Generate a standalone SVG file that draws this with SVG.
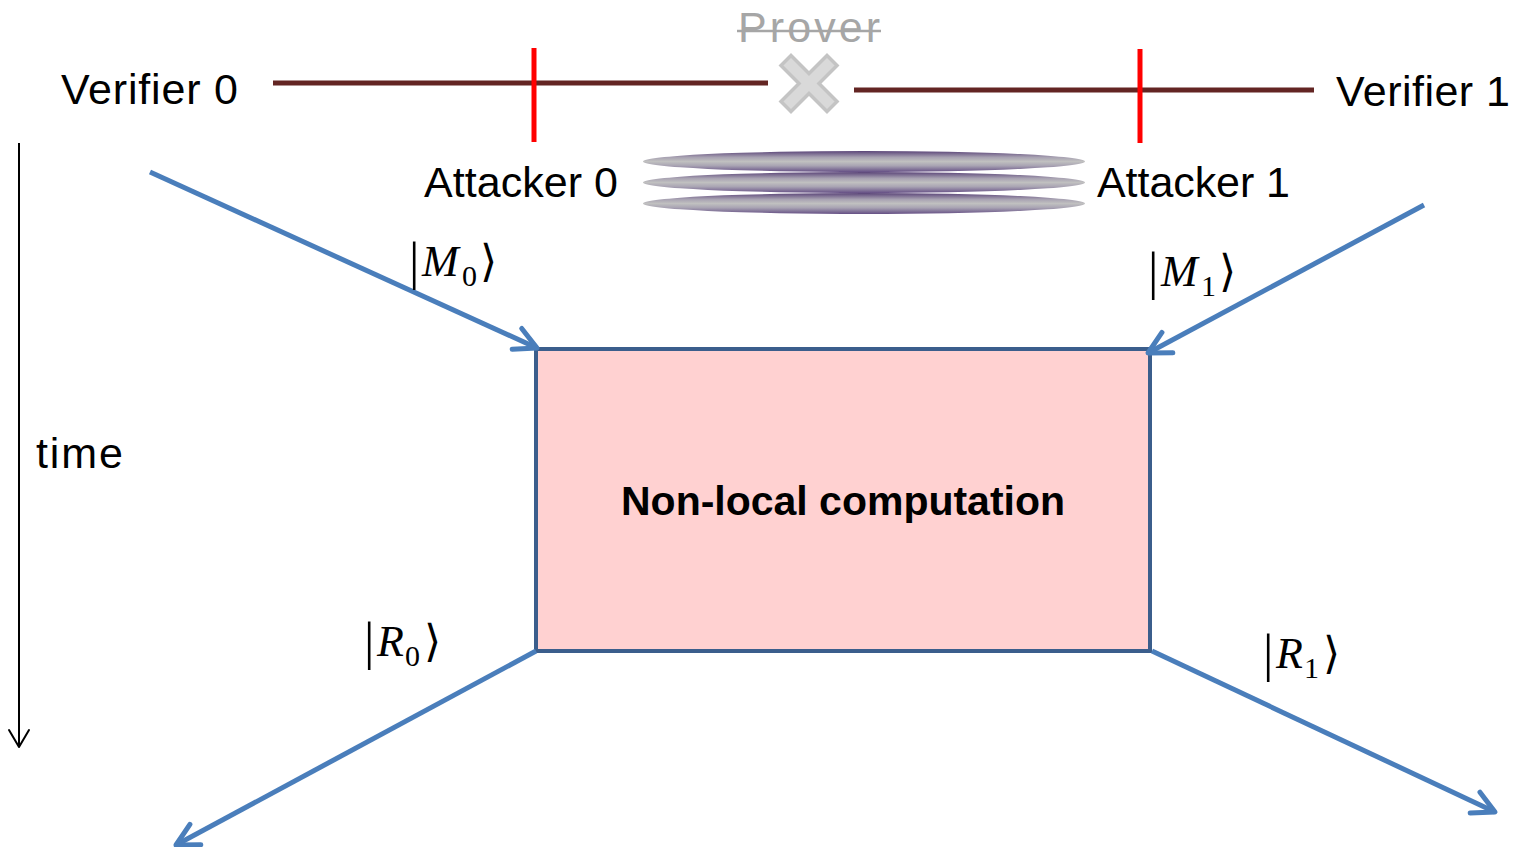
<svg xmlns="http://www.w3.org/2000/svg" width="1519" height="847" viewBox="0 0 1519 847">
  <style>
    .lbl { font-family: "Liberation Sans", Arial, sans-serif; font-size: 43px; fill: #000; }
    .math { font-family: "Liberation Serif", "DejaVu Serif", serif; font-size: 44px; fill: #000; }
    .sub { font-size: 30px; }
    .bar { font-size: 52px; }
    .wire { stroke: #632523; stroke-width: 5; fill: none; }
    .tap { stroke: #FF0000; stroke-width: 5; fill: none; }
    .flow { stroke: #4A7EBB; stroke-width: 5; fill: none; marker-end: url(#blueHead); }
    .ent { fill: url(#entGrad); }
  </style>
  <defs>
    <marker id="blueHead" markerUnits="userSpaceOnUse" viewBox="-4 -15 30 30" refX="22" refY="0" markerWidth="30" markerHeight="30" orient="auto">
      <path d="M0,-11.5 L22,0 L0,11.5" fill="none" stroke="#4A7EBB" stroke-width="5" stroke-linecap="round" stroke-linejoin="round"/>
    </marker>
    <marker id="blackHead" markerUnits="userSpaceOnUse" viewBox="-2 -12 22 24" refX="17" refY="0" markerWidth="22" markerHeight="24" orient="auto">
      <path d="M0,-10 L17,0 L0,10" fill="none" stroke="#000" stroke-width="2" stroke-linecap="round" stroke-linejoin="round"/>
    </marker>
    <linearGradient id="entGrad" x1="0" y1="0" x2="0" y2="1">
      <stop offset="0" stop-color="#5A4478"/>
      <stop offset="0.3" stop-color="#A8A2B2"/>
      <stop offset="0.5" stop-color="#C0C0C0"/>
      <stop offset="0.7" stop-color="#A9A4B3"/>
      <stop offset="1" stop-color="#654F85"/>
    </linearGradient>
  </defs>

  <!-- channel lines -->
  <g id="channel">
    <line class="wire" x1="273" y1="83" x2="768" y2="83"/>
    <line class="wire" x1="854" y1="90" x2="1314" y2="90"/>
    <line class="tap" x1="534" y1="48" x2="534" y2="142"/>
    <line class="tap" x1="1140" y1="49" x2="1140" y2="143"/>
  </g>

  <g id="verifier0"><text class="lbl" x="61" y="104" textLength="177">Verifier 0</text></g>
  <g id="verifier1"><text class="lbl" x="1336" y="106" textLength="174">Verifier 1</text></g>
  <g id="attacker0"><text class="lbl" x="424" y="197" textLength="194">Attacker 0</text></g>
  <g id="attacker1"><text class="lbl" x="1097" y="197" textLength="193">Attacker 1</text></g>

  <g id="prover">
    <text class="lbl" x="738" y="42" textLength="142" style="fill:#A6A6A6">Prover</text>
    <line x1="737" y1="31" x2="881" y2="31" stroke="#A6A6A6" stroke-width="2.5"/>
    <polygon transform="translate(809,83.5)" points="-28,-18 -18,-28 0,-10 18,-28 28,-18 10,0 28,18 18,28 0,10 -18,28 -28,18 -10,0" fill="#D9D9D9" stroke="#C4C4C4" stroke-width="3.5" stroke-linejoin="miter"/>
  </g>

  <g id="entanglement">
    <ellipse class="ent" cx="864" cy="161.5" rx="221" ry="10.5"/>
    <ellipse class="ent" cx="864" cy="182.5" rx="221" ry="10.5"/>
    <ellipse class="ent" cx="864" cy="203.5" rx="221" ry="10.5"/>
  </g>

  <g id="time">
    <line x1="19" y1="143" x2="19" y2="747" stroke="#000" stroke-width="2" marker-end="url(#blackHead)"/>
    <text class="lbl" x="36" y="468" textLength="87">time</text>
  </g>

  <g id="nonlocal">
    <rect x="536" y="349" width="614" height="302" fill="#FFD1D1" stroke="#3B5E8C" stroke-width="4"/>
    <text class="lbl" x="843" y="515" text-anchor="middle" style="font-weight:bold;font-size:41px" textLength="444">Non-local computation</text>
  </g>

  <g id="connectors">
    <line class="flow" x1="150" y1="172" x2="537" y2="348"/>
    <line class="flow" x1="1424" y1="205" x2="1148" y2="353"/>
    <line class="flow" x1="536" y1="651" x2="176" y2="845"/>
    <line class="flow" x1="1152" y1="651" x2="1495" y2="812"/>
  </g>

  <g id="labels">
    <text class="math" y="276"><tspan class="bar" x="409" y="279">|</tspan><tspan x="422" y="276" font-style="italic">M</tspan><tspan class="sub" x="462" y="286">0</tspan><tspan x="480" y="276">⟩</tspan></text>
    <text class="math" y="286"><tspan class="bar" x="1148" y="289">|</tspan><tspan x="1161" y="286" font-style="italic">M</tspan><tspan class="sub" x="1201" y="296">1</tspan><tspan x="1219" y="286">⟩</tspan></text>
    <text class="math" y="656"><tspan class="bar" x="364" y="659">|</tspan><tspan x="377" y="656" font-style="italic">R</tspan><tspan class="sub" x="405" y="666">0</tspan><tspan x="424" y="656">⟩</tspan></text>
    <text class="math" y="668"><tspan class="bar" x="1263" y="671">|</tspan><tspan x="1276" y="668" font-style="italic">R</tspan><tspan class="sub" x="1304" y="678">1</tspan><tspan x="1323" y="668">⟩</tspan></text>
  </g>
</svg>
